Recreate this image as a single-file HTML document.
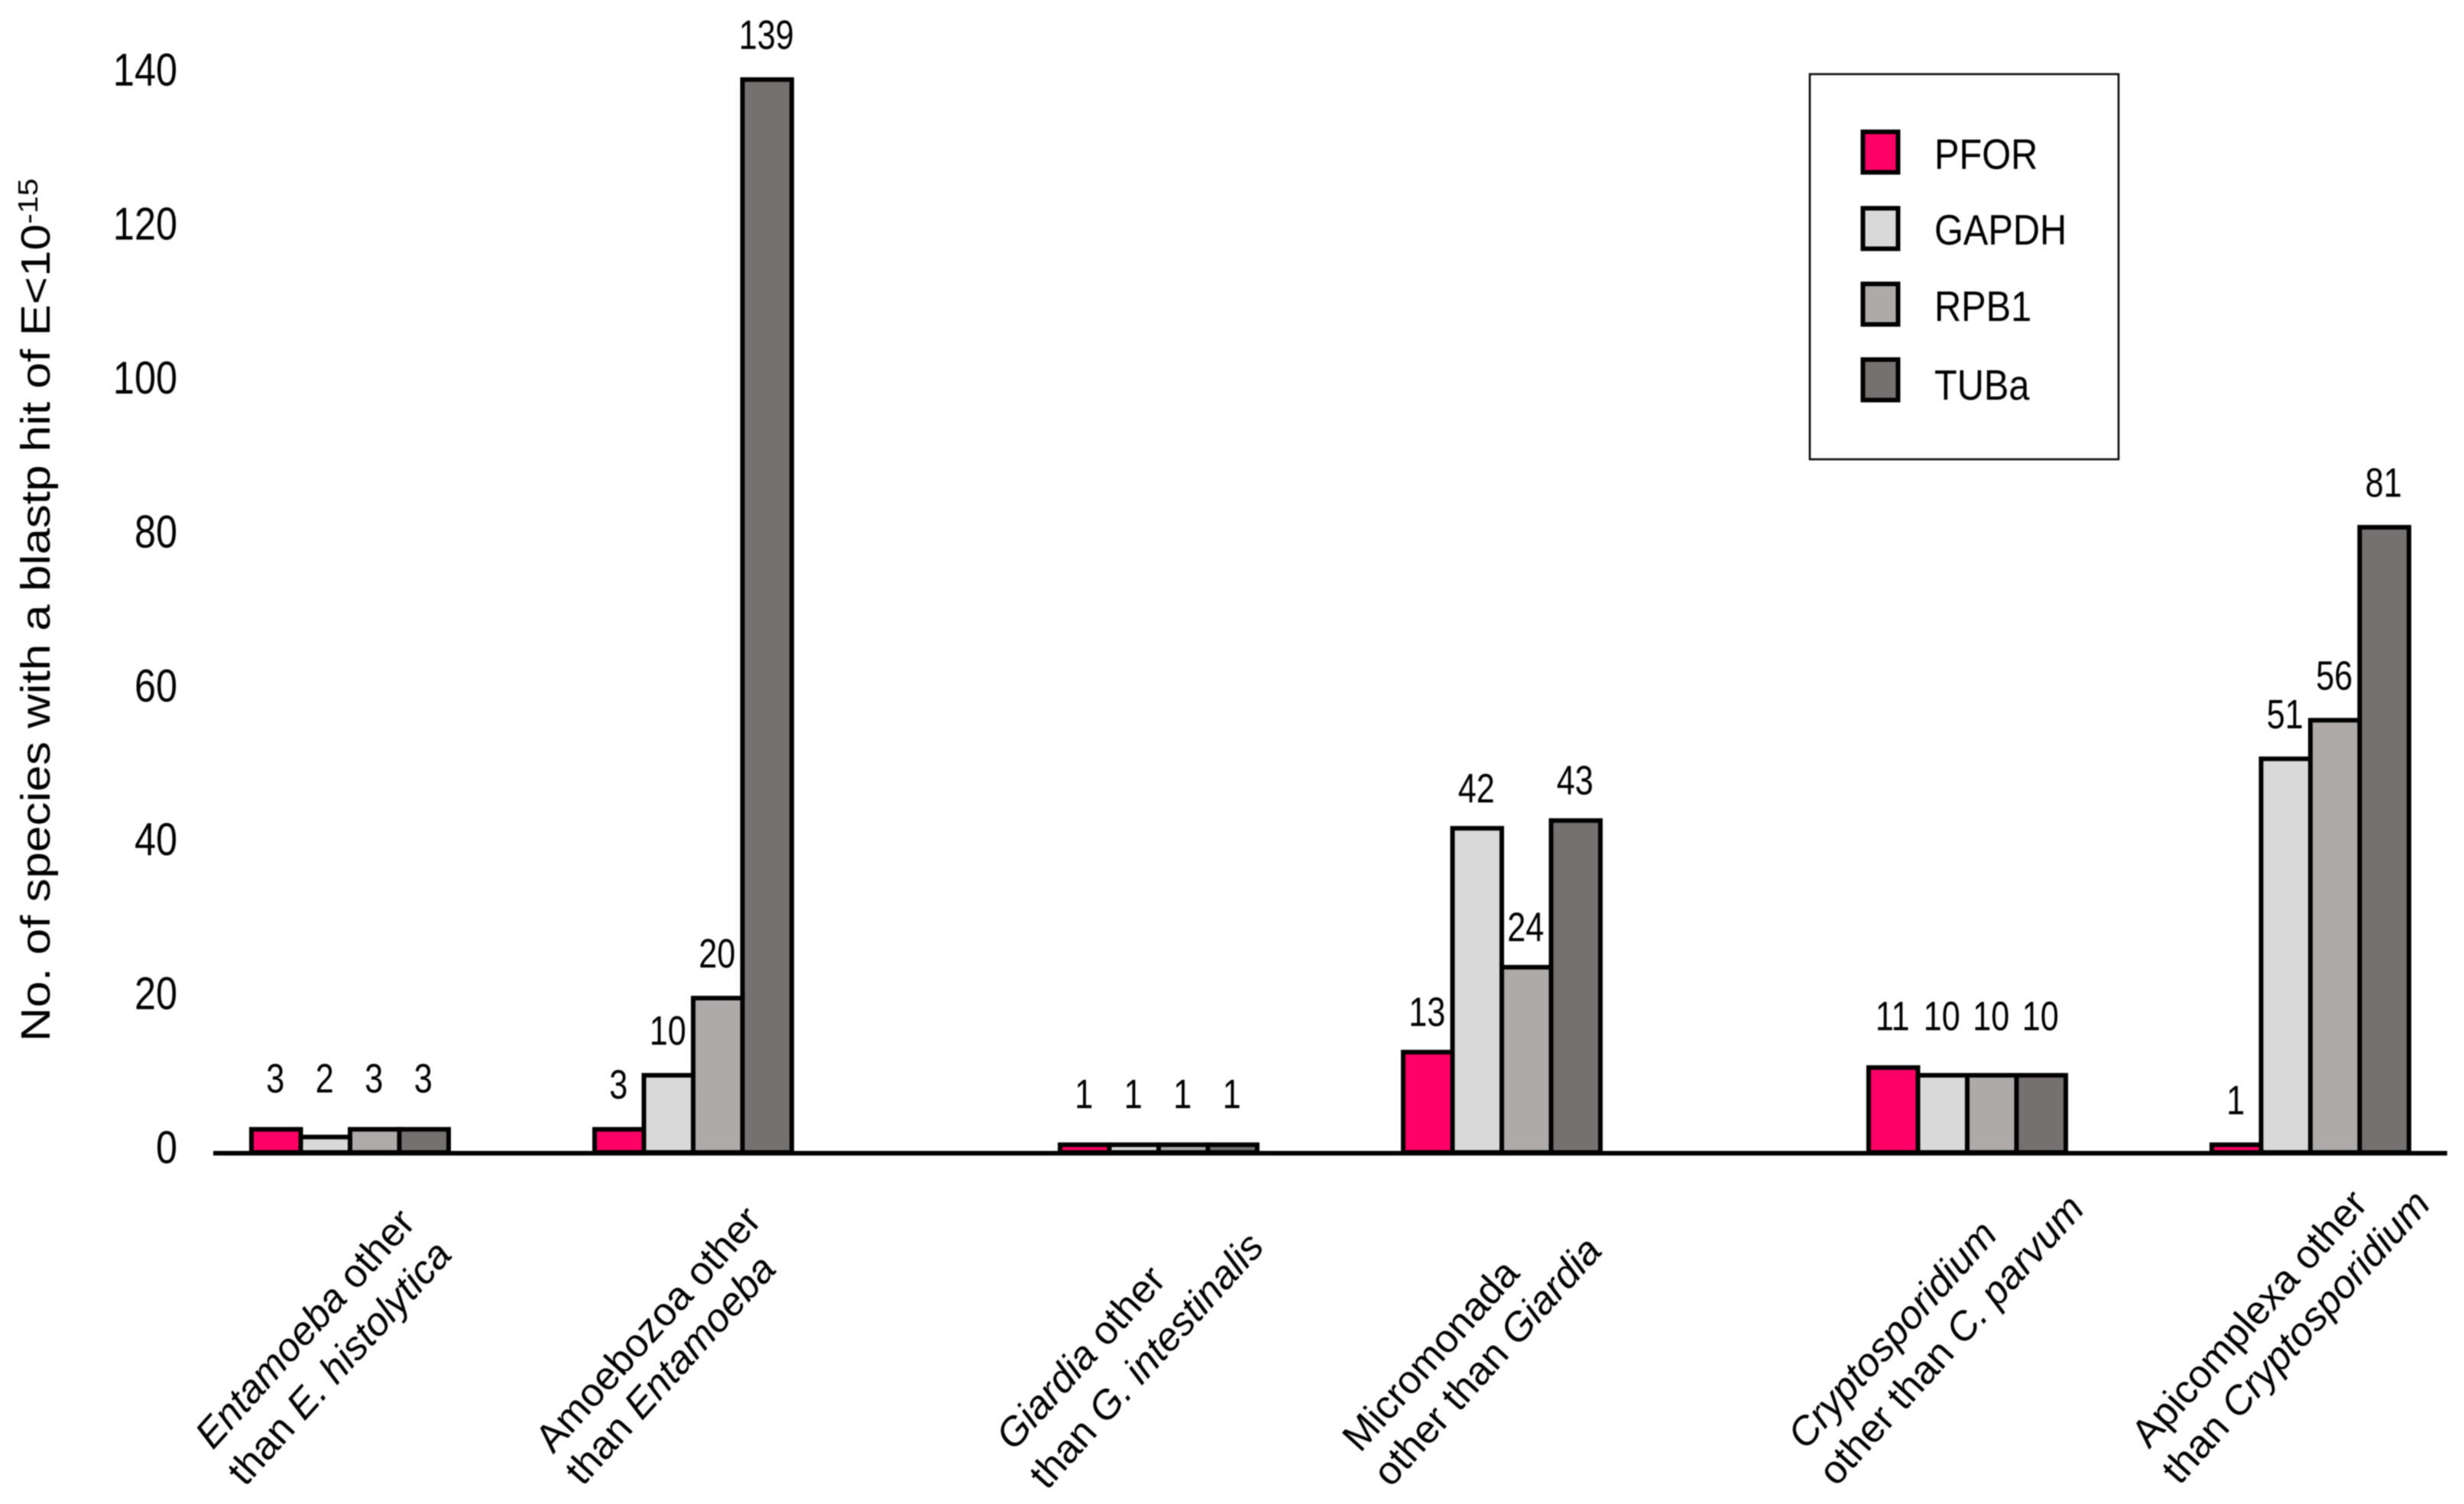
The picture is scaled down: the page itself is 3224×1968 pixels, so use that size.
<!DOCTYPE html>
<html lang="en">
<head>
<meta charset="utf-8">
<title>Species with a blastp hit per marker</title>
<style>
html,body{margin:0;padding:0;background:#fff;width:3224px;height:1968px;overflow:hidden}
svg{display:block;filter:blur(0.7px)}
text{font-family:"Liberation Sans",sans-serif;fill:#000}
</style>
</head>
<body>
<svg id="chart" xmlns="http://www.w3.org/2000/svg" width="3224" height="1968" viewBox="0 0 3224 1968">
  <rect x="0" y="0" width="3224" height="1968" fill="#ffffff"/>
  <text transform="translate(65,1363) rotate(-90) scale(1.148,1)" font-size="54">No. of species with a blastp hit of E&lt;10<tspan font-size="36" dy="-16">-15</tspan></text>
  <g id="bars"></g>
  <g id="value-labels"></g>
  <g id="y-ticks"></g>
  <g id="x-labels"></g>
  <line x1="279" y1="1509" x2="3202" y2="1509" stroke="#000" stroke-width="6"/>
  <g>
    <rect x="2368" y="97" width="404" height="504" fill="#fff" stroke="#000" stroke-width="2.5"/>
    <g>
      <rect x="2437.5" y="172.5" width="46" height="53" fill="#ff0066" stroke="#000" stroke-width="6"/>
      <text transform="translate(2531,221) scale(.87,1)" font-size="56">PFOR</text>
    </g>
    <g>
      <rect x="2437.5" y="272.5" width="46" height="53" fill="#d9d9d9" stroke="#000" stroke-width="6"/>
      <text transform="translate(2531,320) scale(.87,1)" font-size="56">GAPDH</text>
    </g>
    <g>
      <rect x="2437.5" y="371.5" width="46" height="53" fill="#aeaaaa" stroke="#000" stroke-width="6"/>
      <text transform="translate(2531,420) scale(.87,1)" font-size="56">RPB1</text>
    </g>
    <g>
      <rect x="2437.5" y="470.5" width="46" height="53" fill="#767171" stroke="#000" stroke-width="6"/>
      <text transform="translate(2531,523) scale(.87,1)" font-size="56">TUBa</text>
    </g>
  </g>
</svg>
<script>
const categories = [
  ["<i>Entamoeba</i> other", "than <i>E. histolytica</i>"],
  ["Amoebozoa other", "than <i>Entamoeba</i>"],
  ["<i>Giardia</i> other", "than <i>G. intestinalis</i>"],
  ["Micromonada", "other than <i>Giardia</i>"],
  ["<i>Cryptosporidium</i>", "other than <i>C. parvum</i>"],
  ["Apicomplexa other", "than <i>Cryptosporidium</i>"]
];
const seriesNames = ["pfor", "gapdh", "rpb1", "tuba"];
const pfor = [3, 3, 1, 13, 11, 1];
const gapdh = [2, 10, 1, 42, 10, 51];
const rpb1 = [3, 20, 1, 24, 10, 56];
const tuba = [3, 139, 1, 43, 10, 81];
const yTicks = [0, 20, 40, 60, 80, 100, 120, 140];

/* layout, not data */
const seriesFill = {pfor: "#ff0066", gapdh: "#d9d9d9", rpb1: "#aeaaaa", tuba: "#767171"};
const seriesValues = {pfor: pfor, gapdh: gapdh, rpb1: rpb1, tuba: tuba};
const BAR_W = 64.5, Y0 = 1508, UNIT = 10.1;
const alignedLabelGroup = [true, false, true, false, true, false];
const labelLift = [48, 40, 48, 34, 49, 40];
const labelNudge = [[-46, 242, -1, 287], [-46, 243, -17, 296], [-89, 280, -3, 284], [-80, 277, -6, 285], [-85, 250, -8, 257], [-67, 229, -6, 253]];

function y(v) { return Y0 - v * UNIT; }
function groupLeft(i) { return 329 + Math.floor(i / 2) * 1058 + (i % 2) * 449; }
function barX(g, s) { return groupLeft(g) + s * BAR_W; }

const NS = "http://www.w3.org/2000/svg";
const make = (tag, attrs) => {
  const el = document.createElementNS(NS, tag);
  for (const k in attrs) el.setAttribute(k, attrs[k]);
  return el;
};
const barsG = document.getElementById("bars");
const valG = document.getElementById("value-labels");
const tickG = document.getElementById("y-ticks");
const catG = document.getElementById("x-labels");

categories.forEach((lines, g) => {
  const groupMax = Math.max(...seriesNames.map(n => seriesValues[n][g]));
  seriesNames.forEach((name, s) => {
    const v = seriesValues[name][g];
    const bar = make("rect", {x: barX(g, s), y: y(v), width: BAR_W, height: Y0 - y(v), fill: seriesFill[name], stroke: "#000", "stroke-width": 6});
    
    
    barsG.appendChild(bar);

    const baseline = (alignedLabelGroup[g] ? y(groupMax) : y(v)) - labelLift[g];
    const label = make("text", {transform: "translate(" + (barX(g, s) + BAR_W / 2 - 1) + "," + baseline + ") scale(.8,1)", "font-size": 54, "text-anchor": "middle"});
    label.textContent = v;
    
    
    valG.appendChild(label);
  });

  const center = groupLeft(g) + 2 * BAR_W;
  lines.forEach((line, li) => {
    const dx = labelNudge[g][li * 2], dy = labelNudge[g][li * 2 + 1];
    const t = make("text", {transform: "translate(" + (center + dx) + "," + (Y0 + dy) + ") rotate(-48)", "font-size": 52, "text-anchor": "middle"});
    line.split(/(<i>.*?<\/i>)/).filter(Boolean).forEach(part => {
      const ts = make("tspan", {});
      if (part.startsWith("<i>")) {
        ts.setAttribute("font-style", "italic");
        ts.textContent = part.slice(3, -4);
      } else {
        ts.textContent = part;
      }
      
      
      t.appendChild(ts);
    });
    t.style.whiteSpace = "pre";
    
    
    catG.appendChild(t);
  });
});

yTicks.forEach(v => {
  const t = make("text", {transform: "translate(232," + (y(v) + 14 + v * 0.03) + ") scale(.84,1)", "font-size": 60, "text-anchor": "end"});
  t.textContent = v;
  
  
  tickG.appendChild(t);
});
</script>
</body>
</html>
